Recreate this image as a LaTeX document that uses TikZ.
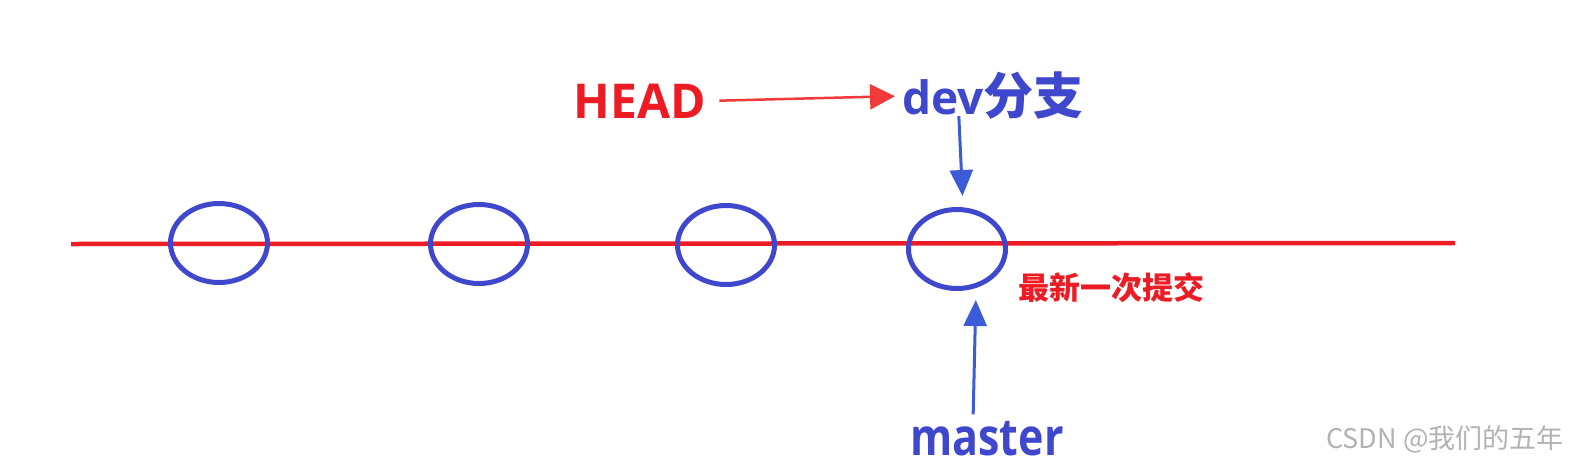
\documentclass[tikz,border=0pt]{standalone}
\usepackage{fontspec}
\setmainfont{Open Sans}
\newfontfamily\cjk{Noto Sans CJK SC}
\usetikzlibrary{arrows.meta, shapes.geometric}
\definecolor{gitred}{HTML}{ED1C24}
\definecolor{arrowred}{HTML}{F23A3A}
\definecolor{gitblue}{HTML}{3F48CC}
\definecolor{arrowblue}{HTML}{3B5BD9}

\begin{document}
\begin{tikzpicture}[
    x=1pt, y=-1pt,
    commit/.style={
        ellipse,
        draw=gitblue,
        line width=5pt,
        minimum width=97pt,
        minimum height=79pt,
        inner sep=0pt
    },
    redlabel/.style={
        text=gitred,
        inner sep=0pt,
        font=\bfseries
    },
    bluelabel/.style={
        text=gitblue,
        inner sep=0pt,
        font=\bfseries
    },
    redarrow/.style={
        -{Triangle[length=25pt, width=25pt]},
        draw=arrowred,
        fill=arrowred,
        line width=2.5pt
    },
    bluearrow/.style={
        -{Triangle[length=26pt, width=23pt]},
        draw=arrowblue,
        fill=arrowblue,
        line width=3pt
    }
]
\useasboundingbox (0,0) rectangle (1581,469);

% === Commit line ===
\coordinate (lineL) at (71,244);
\coordinate (lineR) at (1455,243);
\draw[gitred, line width=4.5pt] (lineL) -- (lineR);

% === Commits ===
\node[commit] (c1) at (219,243) {};
\node[commit] (c2) at (479,244) {};
\node[commit] (c3) at (726,245) {};
\node[commit] (c4) at (957,249) {};

% === Labels ===
\node[redlabel, font=\bfseries\fontsize{48}{56}\selectfont] (head) at (640,101) {HEAD};
\node[bluelabel, font=\bfseries\fontsize{46}{54}\selectfont] (dev) at (993,96)
    {dev{\cjk\bfseries\fontsize{50}{58}\selectfont 分支}};
\node[bluelabel, font=\bfseries\fontsize{43}{52}\selectfont, yscale=1.2, transform shape] (master) at (987,439) {master};
\node[redlabel, font=\cjk\bfseries\fontsize{31}{36}\selectfont] (latest) at (1111,288) {最新一次提交};
\node[text=black!30, inner sep=0pt, font=\cjk\fontsize{27}{30}\selectfont] (mark) at (1445,439) {CSDN @我们的五年};

% === Arrows ===
\draw[redarrow, shorten <=13pt, shorten >=7pt] (head.east) -- (dev.west);
\draw[bluearrow, shorten <=-4pt, shorten >=11pt] ([xshift=-34pt]dev.south) -- ([xshift=6pt]c4.north);
\draw[bluearrow, shorten <=7pt, shorten >=9pt] ([xshift=-14pt]master.north) -- ([xshift=19pt]c4.south);
\end{tikzpicture}
\end{document}
